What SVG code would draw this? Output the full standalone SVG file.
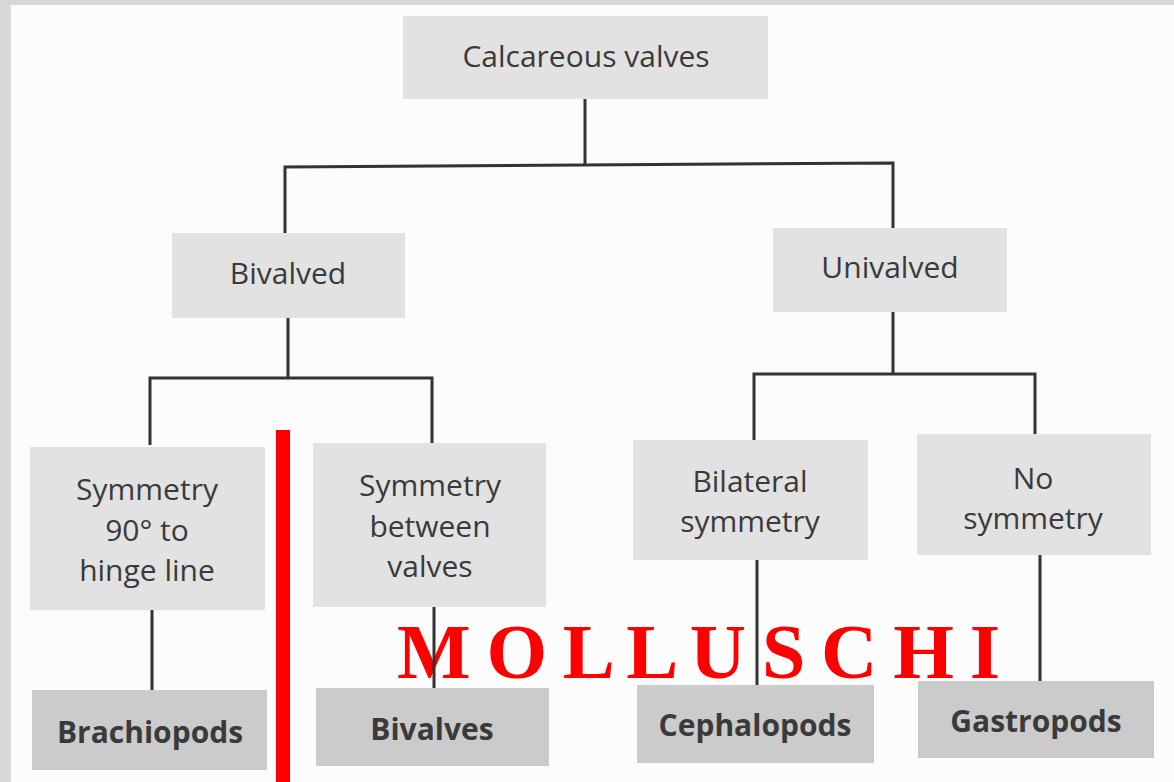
<svg xmlns="http://www.w3.org/2000/svg" width="1174" height="782" viewBox="0 0 1174 782">
<style>
.box{fill:#e2e2e2}
.leaf{fill:#cbcbcb}
.lbl{font-family:"Open Sans","Noto Sans",sans-serif;font-size:30px;fill:#3a3a3a;text-anchor:middle}
.b{font-weight:bold}
.ln{stroke:#333;stroke-width:3;fill:none}
</style>
<rect width="1174" height="782" fill="#fcfcfc"/>
<rect x="0" y="0" width="11" height="782" fill="#d8d8d8"/>
<rect x="0" y="0" width="1174" height="5" fill="#d8d8d8"/>
<g id="n-calc"><rect class="box" x="403" y="16" width="365" height="83"/><text class="lbl" x="586" y="67">Calcareous valves</text></g>
<g id="n-bival"><rect class="box" x="172" y="233" width="233" height="85"/><text class="lbl" x="288" y="284">Bivalved</text></g>
<g id="n-unival"><rect class="box" x="773" y="228" width="234" height="84"/><text class="lbl" x="890" y="278">Univalved</text></g>
<g id="n-sym90"><rect class="box" x="30" y="447" width="235" height="163"/><text class="lbl" x="147" y="500">Symmetry</text><text class="lbl" x="147" y="541">90° to</text><text class="lbl" x="147" y="581">hinge line</text></g>
<g id="n-symbet"><rect class="box" x="313" y="443" width="233" height="164"/><text class="lbl" x="430" y="496">Symmetry</text><text class="lbl" x="430" y="537">between</text><text class="lbl" x="430" y="577">valves</text></g>
<g id="n-bilat"><rect class="box" x="633" y="440" width="235" height="120"/><text class="lbl" x="750" y="492">Bilateral</text><text class="lbl" x="750" y="532">symmetry</text></g>
<g id="n-nosym"><rect class="box" x="917" y="434" width="234" height="121"/><text class="lbl" x="1033" y="489">No</text><text class="lbl" x="1033" y="529">symmetry</text></g>
<g id="n-brach"><rect class="leaf" x="32" y="690" width="235" height="80"/><text class="lbl b" x="150" y="743">Brachiopods</text></g>
<g id="n-bivalves"><rect class="leaf" x="316" y="688" width="233" height="78"/><text class="lbl b" x="432" y="740">Bivalves</text></g>
<g id="n-ceph"><rect class="leaf" x="637" y="685" width="237" height="78"/><text class="lbl b" x="755" y="736">Cephalopods</text></g>
<g id="n-gastro"><rect class="leaf" x="918" y="681" width="236" height="77"/><text class="lbl b" x="1036" y="732">Gastropods</text></g>
<g id="annotation">
<rect x="276" y="430" width="14" height="352" fill="#ff0000"/>
<text x="397" y="678" textLength="603" lengthAdjust="spacing" font-family="'Liberation Serif',serif" font-weight="bold" font-size="78" fill="#ff0000">M O L L U S C H I</text>
</g>
<g id="connectors" class="ln">
<path class="ln" d="M585 99V165M285 233V167L893 163V228"/>
<path class="ln" d="M288 318V378M150 445V378H432V443"/>
<path class="ln" d="M893 312V374M754 440V374H1035V434"/>
<path class="ln" d="M152 610V690M434 607V688M757 560V685M1040 555V681"/>
</g>
</svg>
